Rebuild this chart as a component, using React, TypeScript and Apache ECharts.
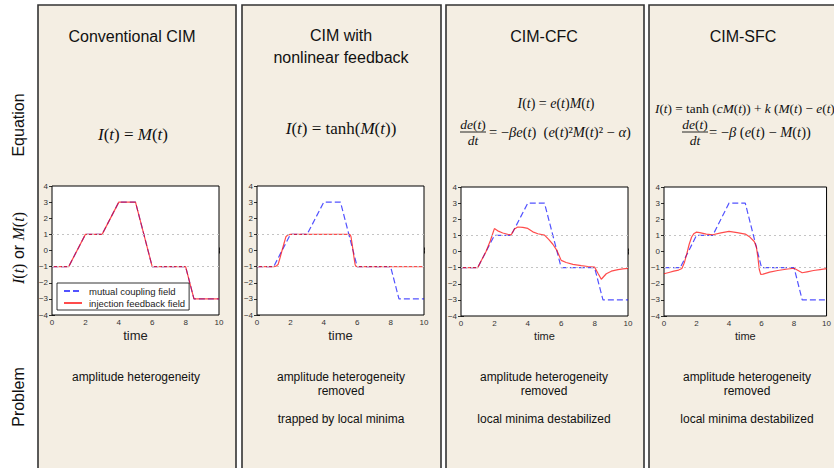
import React, { useEffect, useRef } from "react";
import * as echarts from "echarts";

// Mutual coupling field M(t), shared by all four panels
const MUTUAL_TIME = [0, 1, 2, 3, 4, 5, 6, 8, 8.5, 10];
const MUTUAL_FIELD = [-1, -1, 1, 1, 3, 3, -1, -1, -3, -3];

// Injection feedback field I(t) of each scheme
const CONVENTIONAL_TIME = [0, 1, 2, 3, 4, 5, 6, 8, 8.5, 10];
const CONVENTIONAL_FEEDBACK = [-1, -1, 1, 1, 3, 3, -1, -1, -3, -3];

const NONLINEAR_TIME = [0, 1.0, 1.15, 1.27, 1.38, 1.5, 1.62, 1.73, 1.85, 2.0, 5.5, 5.58, 5.63, 5.69, 5.75, 5.81, 5.87, 5.92, 6.0, 10];
const NONLINEAR_FEEDBACK = [-1, -1, -0.97, -0.85, -0.45, 0, 0.45, 0.85, 0.97, 1, 1, 0.97, 0.85, 0.45, 0, -0.45, -0.85, -0.97, -1, -1];

const CFC_TIME = [0, 1, 1.25, 1.5, 1.75, 2.0, 2.2, 2.5, 2.8, 3.0, 3.2, 3.4, 3.7, 4.0, 4.3, 4.6, 5.0, 5.25, 5.5, 5.75, 6.0, 6.3, 6.7, 7.2, 7.6, 8.0, 8.2, 8.4, 8.55, 8.7, 9.0, 9.4, 9.7, 10];
const CFC_FEEDBACK = [-1, -1, -0.5, 0.0, 0.65, 1.42, 1.28, 1.15, 1.07, 1.03, 1.4, 1.52, 1.5, 1.43, 1.22, 1.1, 1.02, 0.75, 0.45, 0.05, -0.55, -0.68, -0.8, -0.88, -0.93, -0.97, -1.35, -1.72, -1.55, -1.38, -1.22, -1.12, -1.08, -1.05];

const SFC_TIME = [0, 0.3, 0.6, 0.9, 1.1, 1.25, 1.4, 1.55, 1.7, 1.85, 2.0, 2.2, 2.6, 3.0, 3.5, 4.0, 4.5, 5.0, 5.3, 5.55, 5.68, 5.78, 5.86, 5.95, 6.1, 6.5, 7.0, 7.5, 8.0, 8.25, 8.5, 8.8, 9.2, 9.6, 10];
const SFC_FEEDBACK = [-1.38, -1.3, -1.22, -1.15, -1.05, -0.7, -0.15, 0.45, 0.9, 1.12, 1.2, 1.17, 1.08, 1.04, 1.15, 1.25, 1.17, 1.08, 0.88, 0.62, 0.3, -0.4, -1.1, -1.42, -1.4, -1.28, -1.18, -1.1, -1.04, -1.18, -1.32, -1.26, -1.18, -1.12, -1.06];

const FEEDBACK_TIMES = [CONVENTIONAL_TIME, NONLINEAR_TIME, CFC_TIME, SFC_TIME];
const FEEDBACK_VALUES = [CONVENTIONAL_FEEDBACK, NONLINEAR_FEEDBACK, CFC_FEEDBACK, SFC_FEEDBACK];

// Dotted reference levels at the binary spin amplitudes
const THRESHOLDS = [1, -1];

const SERIES_NAMES = ["mutual coupling field", "injection feedback field"];
const PANEL_TITLES = [["Conventional CIM"], ["CIM with", "nonlinear feedback"], ["CIM-CFC"], ["CIM-SFC"]];
const PROBLEMS = [
  ["amplitude heterogeneity"],
  ["amplitude heterogeneity", "removed", "", "trapped by local minima"],
  ["amplitude heterogeneity", "removed", "", "local minima destabilized"],
  ["amplitude heterogeneity", "removed", "", "local minima destabilized"],
];

const PANELS = [
  { x: 38, w: 198, grid: { left: 52, top: 186 }, titleX: 132, textX: 136, axisFont: 13 },
  { x: 242, w: 199, grid: { left: 257, top: 186 }, titleX: 341, textX: 341, axisFont: 13 },
  { x: 446, w: 198, grid: { left: 461, top: 187 }, titleX: 544, textX: 544, axisFont: 11 },
  { x: 649, w: 198, grid: { left: 664, top: 187 }, titleX: 743, textX: 747, axisFont: 11 },
];

const RED = "rgba(255,0,0,0.7)";
const BLUE = "rgba(0,0,255,0.68)";
const SANS = "'Liberation Sans', Arial, sans-serif";
const SERIF = "'Liberation Serif', 'Times New Roman', serif";

const mathRich = (size: number) => ({
  i: { fontFamily: SERIF, fontStyle: "italic", fontSize: size, fill: "#111" },
  r: { fontFamily: SERIF, fontStyle: "normal", fontSize: size, fill: "#111" },
  s: { fontFamily: SANS, fontSize: size, fill: "#111" },
});

const mathText = (text: string, x: number, y: number, size: number, align = "center") => ({
  type: "text",
  x,
  y,
  z: 100,
  style: { text, align, verticalAlign: "middle", rich: mathRich(size), fontSize: size, fontFamily: SERIF },
});

const fraction = (cx: number, barY: number, size: number) => [
  mathText("{i|de}{r|(}{i|t}{r|)}", cx, barY - 8, size),
  {
    type: "line",
    z: 100,
    shape: { x1: cx - 13, y1: barY, x2: cx + 13, y2: barY },
    style: { stroke: "#111", lineWidth: 0.9 },
  },
  mathText("{i|dt}", cx, barY + 8, size),
];

const minus = (v: number) => (v < 0 ? `−${-v}` : `${v}`);

export default function App() {
  const ref = useRef<HTMLDivElement>(null);

  useEffect(() => {
    if (!ref.current) return;
    const chart = echarts.init(ref.current, null, { renderer: "svg" });

    const grids = PANELS.map((p) => ({
      left: p.grid.left,
      top: p.grid.top,
      width: 167,
      height: 129,
      show: true,
      backgroundColor: "#ffffff",
      borderColor: "#000",
      borderWidth: 1,
      z: 1,
    }));

    const tick = { show: true, inside: true, length: 3, lineStyle: { color: "#000", width: 0.8 } };
    const label = { fontSize: 8, color: "#333", fontFamily: SANS };

    const xAxes: any[] = [];
    const yAxes: any[] = [];
    PANELS.forEach((p, i) => {
      xAxes.push({
        type: "value",
        gridIndex: i,
        min: 0,
        max: 10,
        interval: 2,
        position: "bottom",
        axisLine: { show: false },
        axisTick: tick,
        splitLine: { show: false },
        axisLabel: { ...label, margin: 3, formatter: minus },
        name: "time",
        nameLocation: "middle",
        nameGap: 14,
        nameTextStyle: { fontSize: p.axisFont, color: "#222", fontFamily: SANS, verticalAlign: "top" },
      });
      yAxes.push({
        type: "value",
        gridIndex: i,
        min: -4,
        max: 4,
        interval: 1,
        position: "left",
        axisLine: { show: false },
        axisTick: tick,
        splitLine: { show: false },
        axisLabel: { ...label, margin: 4, formatter: minus },
      });
    });
    PANELS.forEach((_, i) => {
      xAxes.push({
        type: "value", gridIndex: i, min: 0, max: 10, interval: 2, position: "top",
        axisLine: { show: false }, axisTick: tick, splitLine: { show: false }, axisLabel: { show: false },
      });
      yAxes.push({
        type: "value", gridIndex: i, min: -4, max: 4, interval: 1, position: "right",
        axisLine: { show: false }, axisTick: tick, splitLine: { show: false }, axisLabel: { show: false },
      });
    });

    const series: any[] = [];
    PANELS.forEach((_, i) => {
      series.push({
        name: SERIES_NAMES[0],
        type: "line",
        xAxisIndex: i,
        yAxisIndex: i,
        symbol: "none",
        z: 3,
        lineStyle: { color: BLUE, width: 1.2, type: [6, 3] },
        itemStyle: { color: BLUE },
        data: MUTUAL_TIME.map((t, k) => [t, MUTUAL_FIELD[k]]),
        markLine: {
          silent: true,
          symbol: "none",
          label: { show: false },
          lineStyle: { color: "#c4c4c4", width: 1, type: [2, 3] },
          data: THRESHOLDS.map((v) => ({ yAxis: v })),
        },
      });
      series.push({
        name: SERIES_NAMES[1],
        type: "line",
        xAxisIndex: i,
        yAxisIndex: i,
        symbol: "none",
        z: 4,
        lineStyle: { color: RED, width: 1.2 },
        itemStyle: { color: RED },
        data: FEEDBACK_TIMES[i].map((t, k) => [t, FEEDBACK_VALUES[i][k]]),
      });
    });

    const graphics: any[] = [];
    PANELS.forEach((p, i) => {
      graphics.push({
        type: "rect",
        z: -10,
        shape: { x: p.x, y: 5, width: p.w, height: 480 },
        style: { fill: "#f4eee3", stroke: "#333", lineWidth: 1.6 },
      });
      PANEL_TITLES[i].forEach((line, k) => {
        graphics.push({
          type: "text",
          x: p.titleX,
          y: (PANEL_TITLES[i].length > 1 ? 35 : 36) + k * 22,
          z: 100,
          style: { text: line, align: "center", verticalAlign: "middle", fontSize: 16, fontFamily: SANS, fill: "#111" },
        });
      });
      PROBLEMS[i].forEach((line, k) => {
        if (!line) return;
        graphics.push({
          type: "text",
          x: p.textX,
          y: 377 + k * 14,
          z: 100,
          style: { text: line, align: "center", verticalAlign: "middle", fontSize: 12, fontFamily: SANS, fill: "#111" },
        });
      });
    });

    // Equations
    graphics.push(mathText("{i|I}{r|(}{i|t}{r|) = }{i|M}{r|(}{i|t}{r|)}", 133, 134, 17));
    graphics.push(mathText("{i|I}{r|(}{i|t}{r|) = tanh(}{i|M}{r|(}{i|t}{r|))}", 341, 128, 17));
    graphics.push(mathText("{i|I}{r|(}{i|t}{r|) = }{i|e}{r|(}{i|t}{r|)}{i|M}{r|(}{i|t}{r|)}", 556, 103, 14));
    graphics.push(...fraction(473, 132, 13.5));
    graphics.push(
      mathText(
        "{r|= −}{i|βe}{r|(}{i|t}{r|)  (}{i|e}{r|(}{i|t}{r|)²}{i|M}{r|(}{i|t}{r|)² − }{i|α}{r|)}",
        489, 132, 14.5, "left"
      )
    );
    // The right-hand panel runs past the page edge, so this line ends clipped
    graphics.push(
      mathText(
        "{i|I}{r|(}{i|t}{r|) = tanh (}{i|cM}{r|(}{i|t}{r|)) + }{i|k}{r| (}{i|M}{r|(}{i|t}{r|) − }{i|e}{r|(}{i|t}{r|))}",
        655, 108, 13.3, "left"
      )
    );
    graphics.push(...fraction(695, 132, 13.5));
    graphics.push(mathText("{r|= −}{i|β}{r| (}{i|e}{r|(}{i|t}{r|) − }{i|M}{r|(}{i|t}{r|))}", 709, 132, 14.5, "left"));

    // Row labels on the left
    const rowLabel = (text: string, y: number, rich = false) => ({
      type: "text",
      x: 18,
      y,
      rotation: Math.PI / 2,
      z: 100,
      style: rich
        ? { text, align: "center", verticalAlign: "middle", rich: mathRich(16), fontSize: 16 }
        : { text, align: "center", verticalAlign: "middle", fontSize: 16, fontFamily: SANS, fill: "#111" },
    });
    graphics.push(rowLabel("Equation", 125));
    graphics.push(rowLabel("{i|I}{r|(}{i|t}{r|)}{s| or }{i|M}{r|(}{i|t}{r|)}", 248, true));
    graphics.push(rowLabel("Problem", 397));

    chart.setOption({
      animation: false,
      backgroundColor: "#ffffff",
      grid: grids,
      xAxis: xAxes,
      yAxis: yAxes,
      series,
      legend: {
        data: SERIES_NAMES,
        left: 57,
        top: 283,
        orient: "vertical",
        itemWidth: 18,
        itemHeight: 8,
        itemGap: 2,
        padding: [3, 4, 2, 6],
        backgroundColor: "#fff",
        borderColor: "#000",
        borderWidth: 0.8,
        borderRadius: 0,
        selectedMode: false,
        itemStyle: { opacity: 0 },
        textStyle: { fontSize: 9.5, color: "#222", fontFamily: SANS, padding: [0, 0, 0, 2] },
        z: 10,
      },
      graphic: graphics,
    });

    return () => chart.dispose();
  }, []);

  return <div ref={ref} style={{ position: "fixed", left: 0, top: 0, width: 834, height: 468 }} />;
}
